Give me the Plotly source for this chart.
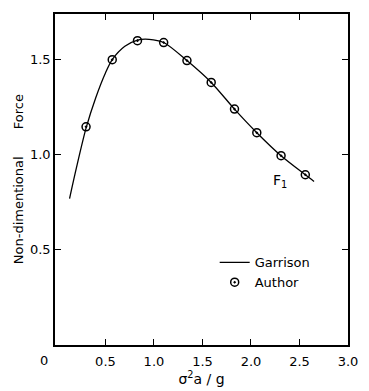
import plotly.graph_objects as go

# Garrison curve (solid line)
garrison_x = [0.13, 0.2, 0.3, 0.4, 0.5, 0.57, 0.7, 0.83, 0.95, 1.1, 1.34, 1.59, 1.83, 2.06, 2.31, 2.56, 2.65]
garrison_y = [0.77, 0.93, 1.14, 1.30, 1.43, 1.50, 1.57, 1.603, 1.607, 1.59, 1.495, 1.38, 1.24, 1.116, 0.995, 0.895, 0.86]

# Author points
author_x = [0.30, 0.57, 0.83, 1.10, 1.34, 1.59, 1.83, 2.06, 2.31, 2.56]
author_y = [1.147, 1.50, 1.60, 1.59, 1.495, 1.38, 1.24, 1.116, 0.995, 0.895]

x_ticks = [0.5, 1.0, 1.5, 2.0, 2.5, 3.0]
x_ticklabels = ["0.5", "1.0", "1.5", "2.0", "2.5", "3.0"]
y_ticks = [0.5, 1.0, 1.5]
y_ticklabels = ["0.5", "1.0", "1.5"]

FONT = "DejaVu Sans"

fig = go.Figure()
fig.add_trace(go.Scatter(x=garrison_x, y=garrison_y, mode="lines", name="Garrison",
                         line=dict(color="black", width=1.3, shape="spline", smoothing=0.8)))
fig.add_trace(go.Scatter(x=author_x, y=author_y, mode="markers", name="Author",
                         marker=dict(symbol="circle-open-dot", size=8, color="black",
                                     line=dict(color="black", width=1.5))))

fig.update_layout(
    width=369, height=391,
    margin=dict(l=55, r=11, t=14, b=46),
    paper_bgcolor="white", plot_bgcolor="white",
    font=dict(family=FONT, size=12, color="black"),
    showlegend=True,
    legend=dict(x=0.545, y=0.295, xanchor="left", yanchor="top", bgcolor="rgba(0,0,0,0)",
                font=dict(size=13, family=FONT), tracegroupgap=0, itemwidth=30),
    xaxis=dict(range=[-0.02, 3.0], tickvals=x_ticks, ticktext=x_ticklabels,
               ticks="inside", ticklen=6, tickwidth=1.3, tickcolor="black",
               ticklabelstandoff=4,
               showline=True, linecolor="black", linewidth=1.5, mirror="ticks",
               showgrid=False, zeroline=False, tickfont=dict(size=13, family=FONT),
               title=dict(text="σ<sup>2</sup>a / g", font=dict(size=14, family=FONT), standoff=1)),
    yaxis=dict(range=[0, 1.74], tickvals=y_ticks, ticktext=y_ticklabels,
               ticks="inside", ticklen=6, tickwidth=1.3, tickcolor="black",
               showline=True, linecolor="black", linewidth=1.5, mirror="ticks",
               showgrid=False, zeroline=False, tickfont=dict(size=13, family=FONT)),
)

# "0" label at the origin corner
fig.add_annotation(x=(44 - 55) / 303, y=(345 - 360) / 331, xref="paper", yref="paper", text="0",
                   showarrow=False, xanchor="center", yanchor="middle",
                   font=dict(size=13, family=FONT))

# y-axis title pieces
fig.add_annotation(x=(18 - 55) / 303, y=(345 - 210) / 331, xref="paper", yref="paper",
                   text="Non-dimentional", textangle=-90, showarrow=False,
                   xanchor="center", yanchor="middle", font=dict(size=13, family=FONT))
fig.add_annotation(x=(18 - 55) / 303, y=(345 - 112) / 331, xref="paper", yref="paper",
                   text="Force", textangle=-90, showarrow=False,
                   xanchor="center", yanchor="middle", font=dict(size=13, family=FONT))
# F1 label
fig.add_annotation(x=2.3, y=0.86, xref="x", yref="y", text="F<sub>1</sub>", showarrow=False,
                   font=dict(size=14, family=FONT))

fig.write_html("out.html")
